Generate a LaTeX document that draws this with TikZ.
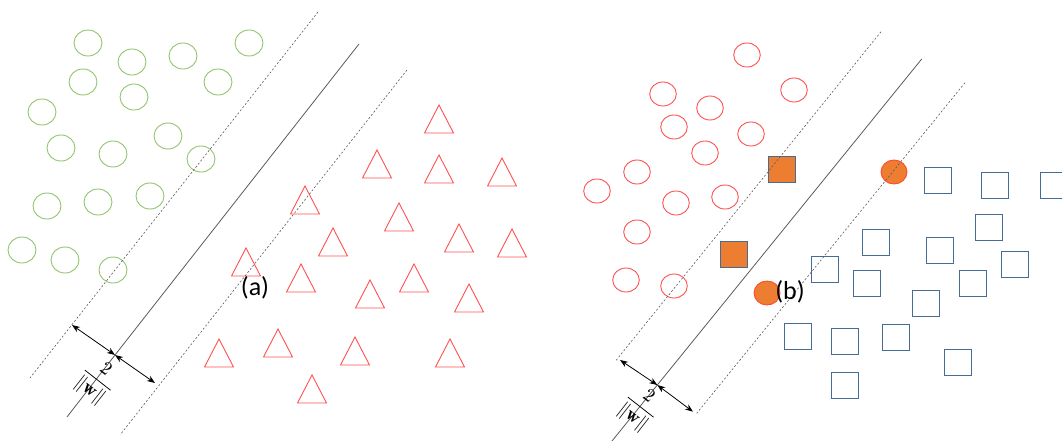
\documentclass[tikz,border=0pt]{standalone}
\usepackage{amsmath}
\usepackage{fontspec}
\newfontfamily\panelfont{Carlito}
\usetikzlibrary{arrows.meta}

\definecolor{ptgreen}{RGB}{146,196,110}
\definecolor{ptred}{RGB}{255,80,80}
\definecolor{ptblue}{RGB}{68,108,150}
\definecolor{svorange}{RGB}{237,125,49}
\definecolor{svedge}{RGB}{255,75,45}
\definecolor{hypgray}{RGB}{90,90,90}

\begin{document}
\begin{tikzpicture}[
    x=1pt, y=-1pt,
    greencirc/.style={draw=ptgreen, line width=0.9pt},
    redmark/.style={draw=ptred, line width=0.9pt},
    bluesq/.style={draw=ptblue, line width=0.9pt},
    svsq/.style={draw=ptblue, fill=svorange, line width=0.9pt},
    svcirc/.style={draw=svedge, fill=svorange, line width=0.9pt},
    hyper/.style={draw=hypgray, line width=0.8pt},
    marginline/.style={draw=hypgray, dash pattern=on 2pt off 2pt, line width=0.6pt},
    gaparrow/.style={{Stealth[length=8pt,width=6pt]}-{Stealth[length=8pt,width=6pt]}, line width=0.8pt},
    panel/.style={font=\panelfont\fontsize{26}{30}\selectfont, inner sep=0pt},
    marginlabel/.style={scale=1.9, rotate=-38, inner sep=0pt}
]
\useasboundingbox (0,0) rectangle (1062,441);

% (a): green circles and red triangles
\foreach \x/\y in {88/43, 132/62, 183/56, 249/43, 83/82, 134/97, 218/82, 42/112, 61/148,
                   113/154, 168/136, 201/159, 47/206, 98/202, 150/196, 22/250, 65/260, 113/270}
    \draw[greencirc] (\x,\y) ellipse [x radius=14, y radius=13];
\foreach \x/\y in {439/119, 377/164, 439/169, 502/172, 305/200, 399/217, 333/242, 459/238,
                   512/243, 246/262, 301/278, 414/278, 370/294, 469/298, 219/353, 278/343,
                   355/351, 450/353, 312/389}
    \draw[redmark] (\x,\y) ++(-14.5,14) -- ++(14.5,-28) -- ++(14.5,28) -- cycle;

% (a): hyperplane and margins
\coordinate (a-top) at (359,44);
\coordinate (a-mid) at (115,355);
\coordinate (a-end) at (67,417);
\coordinate (a-up1) at (318,12);
\coordinate (a-up2) at (30,378);
\coordinate (a-lo1) at (407,70);
\coordinate (a-lo2) at (120,435);
\coordinate (a-upr) at (72,325);
\coordinate (a-lor) at (155,383);
\draw[hyper] (a-top) -- (a-mid) -- (a-end);
\draw[marginline] (a-up1) -- (a-up2);
\draw[marginline] (a-lo1) -- (a-lo2);
\draw[gaparrow] (a-upr) -- (a-mid);
\draw[gaparrow] (a-mid) -- (a-lor);
\node[marginlabel] (a-gap) at (97,381) {$\dfrac{2}{\|\mathbf{w}\|}$};
\node[panel] (a-name) at (255,288) {(a)};

% (b): red circles and blue squares
\foreach \x/\y in {747/55, 794/90, 663/94, 710/108, 674/127, 751/134, 705/153, 637/172,
                   597/191, 676/203, 725/197, 637/232, 626/280, 674/286}
    \draw[redmark] (\x,\y) ellipse [x radius=13.3, y radius=12];
\foreach \x/\y in {876/242, 825/269, 867/283, 940/250, 989/227, 1015/264, 973/283, 926/303,
                   798/336, 845/341, 896/337, 958/362, 845/385, 938/180, 995/185, 1054/185}
    \draw[bluesq] (\x,\y) ++(-13.5,-13) rectangle ++(27,26);

% (b): support vectors
\draw[svsq] (781.5,169) ++(-13.5,-13) rectangle ++(27,26);
\draw[svsq] (734,254.5) ++(-13.5,-13) rectangle ++(27,26);
\draw[svcirc] (767,293) ellipse [x radius=13, y radius=12];
\draw[svcirc] (894,172) ellipse [x radius=13, y radius=12];

% (b): hyperplane and margins
\coordinate (b-top) at (921.7,59);
\coordinate (b-mid) at (657.3,385);
\coordinate (b-end) at (612,441);
\coordinate (b-up1) at (881,31.7);
\coordinate (b-up2) at (615,361.7);
\coordinate (b-lo1) at (965,82.7);
\coordinate (b-lo2) at (696.7,413.3);
\coordinate (b-upr) at (620,360);
\coordinate (b-lor) at (693,411.7);
\draw[hyper] (b-top) -- (b-mid) -- (b-end);
\draw[marginline] (b-up1) -- (b-up2);
\draw[marginline] (b-lo1) -- (b-lo2);
\draw[gaparrow] (b-upr) -- (b-mid);
\draw[gaparrow] (b-mid) -- (b-lor);
\node[marginlabel] (b-gap) at (640,408) {$\dfrac{2}{\|\mathbf{w}\|}$};
\node[panel] (b-name) at (790,292) {(b)};
\end{tikzpicture}
\end{document}
